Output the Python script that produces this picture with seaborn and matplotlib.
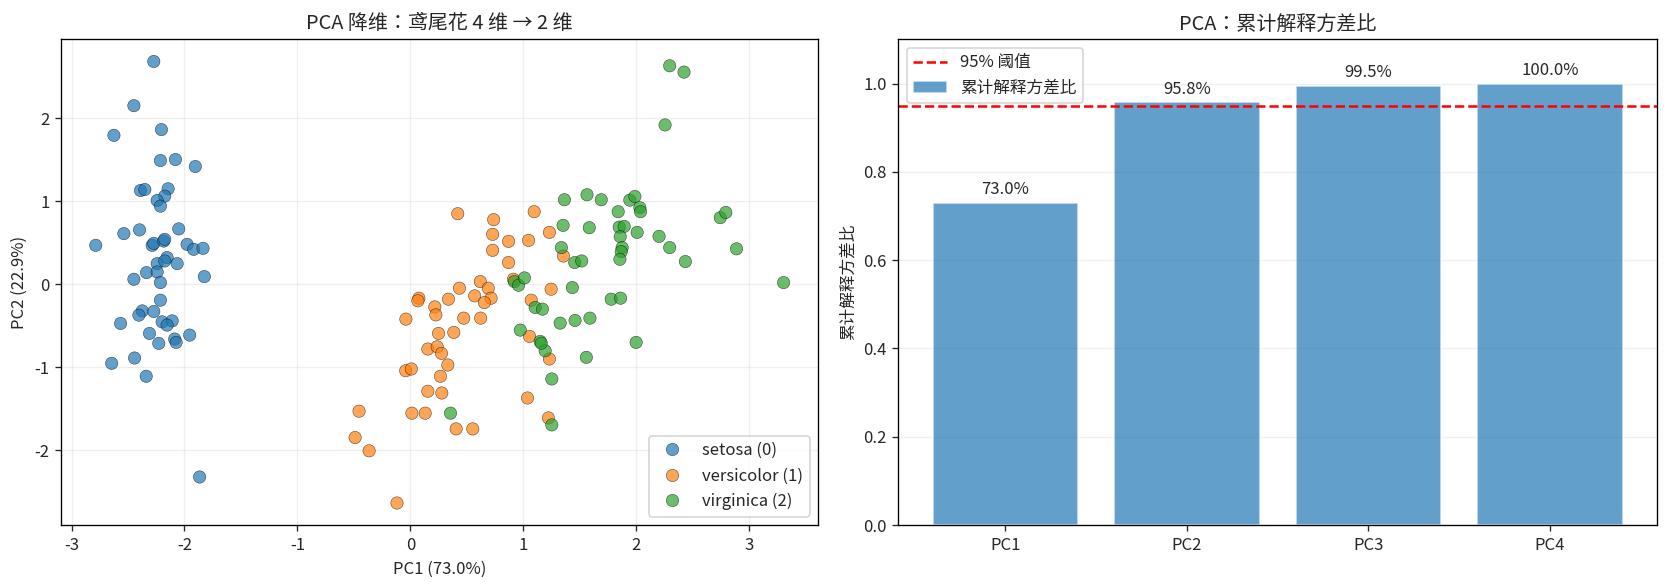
import numpy as np
import pandas as pd
import matplotlib
matplotlib.use("Agg")
from matplotlib import pyplot as plt
import seaborn as sns

sns.set_style("white")
plt.rcParams['font.family'] = ['Noto Sans CJK JP', 'DejaVu Sans']
plt.rcParams['axes.unicode_minus'] = False

# PCA scores
setosa_pc1 = [-2.272, -2.448, -2.625, -2.204, -2.213, -2.080, -1.904, -2.389, -2.351, -2.145,
              -2.175, -2.242, -2.213, -2.537, -2.398, -2.051, -2.786, -2.286, -2.272, -2.184,
              -2.175, -1.977, -1.919, -1.836, -2.154, -2.242, -2.175, -2.065, -2.336, -2.242,
              -2.448, -2.213, -1.824, -2.213, -2.374, -2.404, -2.272, -2.566, -2.198, -2.109,
              -2.154, -2.310, -2.228, -2.087, -2.074, -1.954, -2.645, -2.442, -2.339, -1.866]
setosa_pc2 = [2.681, 2.149, 1.792, 1.861, 1.489, 1.501, 1.417, 1.128, 1.140, 1.149,
              1.060, 1.008, 0.940, 0.609, 0.654, 0.666, 0.468, 0.468, 0.492, 0.520,
              0.540, 0.480, 0.420, 0.432, 0.321, 0.248, 0.280, 0.248, 0.140, 0.148,
              0.060, 0.020, 0.092, -0.192, -0.321, -0.372, -0.328, -0.472, -0.453, -0.441,
              -0.492, -0.592, -0.712, -0.660, -0.700, -0.612, -0.952, -0.888, -1.108, -2.320]

versicolor_pc1 = [0.420, 0.738, 1.097, 0.729, 0.870, 1.047, 1.232, 0.729, 0.870, 0.620,
                  0.691, 0.435, 0.076, 0.067, 0.338, 0.570, 0.715, 0.656, 0.217, 0.226,
                  -0.039, 0.473, 0.623, 0.250, 0.385, 0.155, 0.238, 0.276, 0.914, 1.247,
                  1.071, 1.056, 1.232, 0.332, -0.041, 0.009, 0.267, 0.155, 0.279, 0.014,
                  0.132, 0.406, 0.553, -0.118, 1.038, 1.223, 1.356, -0.454, -0.489, -0.365]
versicolor_pc2 = [0.849, 0.777, 0.873, 0.600, 0.516, 0.528, 0.624, 0.408, 0.261, 0.032,
                  -0.048, -0.048, -0.168, -0.200, -0.180, -0.140, -0.168, -0.220, -0.273, -0.369,
                  -0.420, -0.408, -0.408, -0.592, -0.580, -0.780, -0.753, -0.832, 0.060, -0.060,
                  -0.192, -0.628, -0.900, -0.972, -1.041, -1.020, -1.108, -1.288, -1.309, -1.552,
                  -1.552, -1.741, -1.741, -2.633, -1.369, -1.609, 0.340, -1.528, -1.845, -2.005]

virginica_pc1 = [0.921, 0.959, 1.011, 1.106, 1.170, 0.974, 1.150, 1.194, 0.356, 1.253,
                 1.253, 2.297, 2.424, 2.256, 1.365, 1.565, 1.691, 1.944, 1.989, 2.033,
                 2.039, 1.841, 1.353, 1.585, 1.850, 1.894, 1.859, 2.009, 2.203, 2.745,
                 2.794, 1.338, 1.876, 2.297, 2.889, 1.868, 1.856, 1.456, 1.518, 2.436,
                 1.435, 1.779, 1.862, 1.327, 1.459, 1.591, 2.000, 1.559, 3.306, 1.160]
virginica_pc2 = [0.032, -0.012, 0.076, -0.280, -0.300, -0.552, -0.688, -0.801, -1.552, -1.140,
                 -1.693, 2.629, 2.553, 1.917, 1.017, 1.077, 1.017, 1.012, 1.056, 0.921,
                 0.873, 0.873, 0.708, 0.681, 0.688, 0.696, 0.573, 0.624, 0.576, 0.801,
                 0.864, 0.441, 0.441, 0.441, 0.426, 0.393, 0.300, 0.261, 0.280, 0.273,
                 -0.040, -0.180, -0.168, -0.468, -0.436, -0.408, -0.700, -0.880, 0.020, -0.710]

class_names = ['setosa (0)', 'versicolor (1)', 'virginica (2)']

components = ['PC1', 'PC2', 'PC3', 'PC4']
cumulative_ratio = [0.730, 0.958, 0.995, 1.000]
threshold = 0.95

df = pd.DataFrame({
    'PC1': setosa_pc1 + versicolor_pc1 + virginica_pc1,
    'PC2': setosa_pc2 + versicolor_pc2 + virginica_pc2,
    'species': [class_names[0]] * len(setosa_pc1)
               + [class_names[1]] * len(versicolor_pc1)
               + [class_names[2]] * len(virginica_pc1),
})
cum_df = pd.DataFrame({'component': components, 'ratio': cumulative_ratio})

fig = plt.figure(figsize=(1667 / 120, 588 / 120), dpi=120)
ax1 = fig.add_axes([0.0368, 0.107, 0.4539, 0.826])
ax2 = fig.add_axes([0.5389, 0.107, 0.4551, 0.826])

# left: scatter of the first two components
sns.scatterplot(data=df, x='PC1', y='PC2', hue='species', hue_order=class_names,
                palette=['#1f77b4', '#ff7f0e', '#2ca02c'], s=55, alpha=0.7,
                edgecolor='black', linewidth=0.3, ax=ax1)
ax1.set_title('PCA 降维：鸢尾花 4 维 → 2 维', fontsize=12)
ax1.set_xlabel('PC1 (73.0%)')
ax1.set_ylabel('PC2 (22.9%)')
ax1.legend(loc='lower right')
ax1.grid(True, alpha=0.3)

# right: cumulative explained variance
bar_w = 0.8
sns.barplot(data=cum_df, x='component', y='ratio', color='#1f77b4', alpha=0.7,
            saturation=1, width=bar_w, label='累计解释方差比', ax=ax2)
ax2.axhline(threshold, color='red', linestyle='--', linewidth=1.5, label='95% 阈值')
for i, v in enumerate(cumulative_ratio):
    ax2.text(i, v + 0.01, f'{v * 100:.1f}%', ha='center', va='bottom', fontsize=10)
# plain matplotlib margins instead of seaborn's tight categorical limits
span = len(components) - 1 + bar_w
pad = 0.05 * span
ax2.set_xlim(-bar_w / 2 - pad, len(components) - 1 + bar_w / 2 + pad)
ax2.set_ylim(0, 1.1)
ax2.set_xlabel('')
ax2.set_ylabel('累计解释方差比')
ax2.set_title('PCA：累计解释方差比', fontsize=12)
ax2.legend(loc='upper left')
ax2.grid(True, axis='y', alpha=0.3)

for ax in (ax1, ax2):
    for sp in ax.spines.values():
        sp.set_color('black')
    ax.tick_params(axis='both', which='major', length=3.5, width=0.8, direction='out',
                   bottom=True, left=True)

fig.savefig('out.png', dpi=120)
